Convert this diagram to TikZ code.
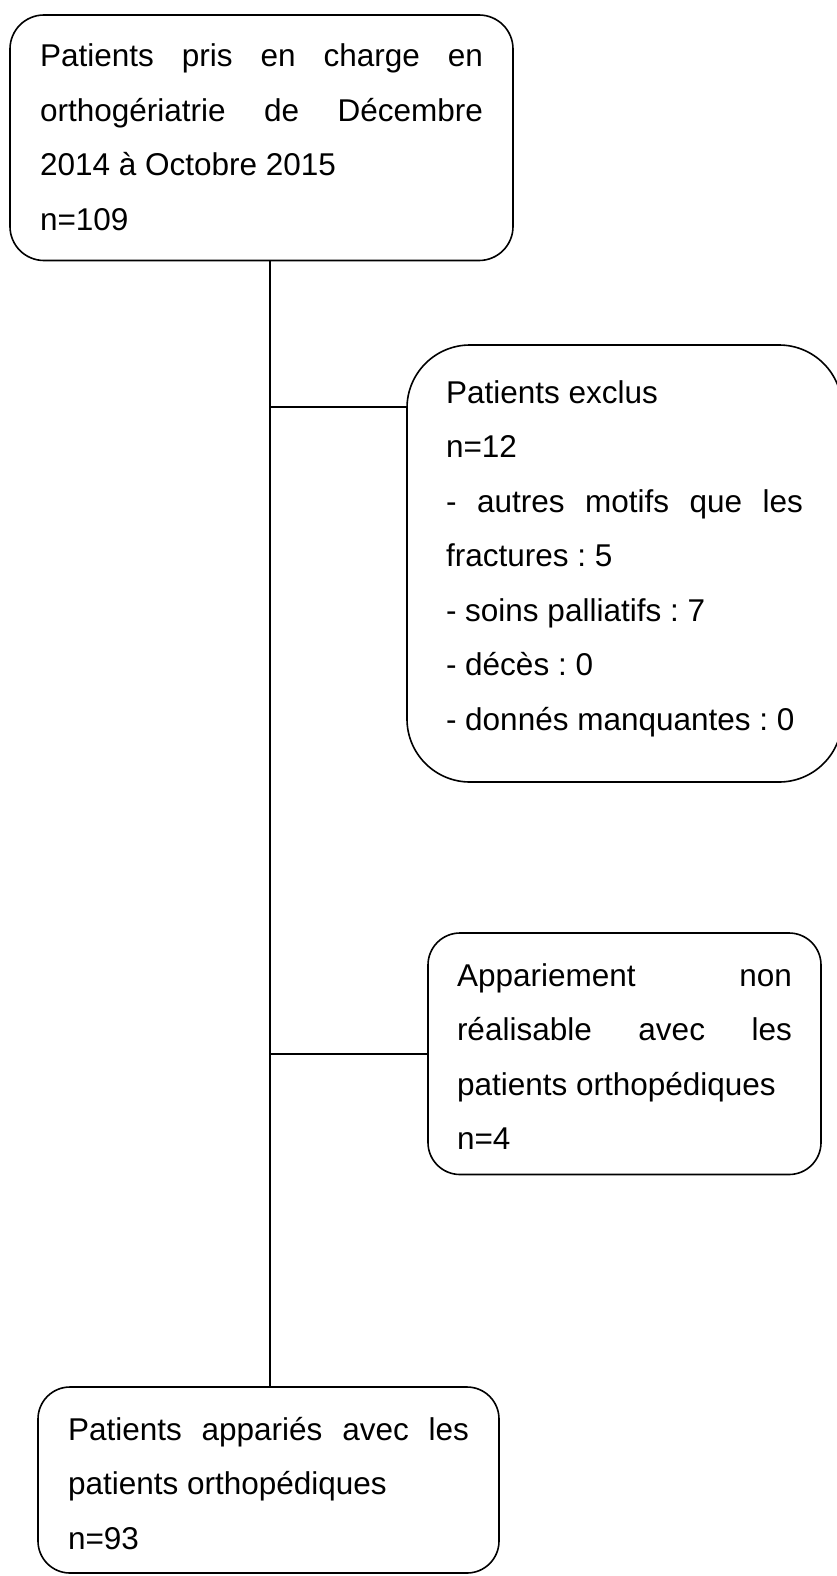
\documentclass[tikz,border=0pt]{standalone}
\usepackage{fontspec}
\setmainfont{Liberation Sans}
\usetikzlibrary{calc}
\setlength{\parindent}{0pt}
\frenchspacing
\newcommand{\topgap}[1]{\rule{0pt}{#1}}
\newcommand{\botgap}[1]{\rule[-#1]{0pt}{#1}}

\begin{document}
\begin{tikzpicture}[x=1pt, y=-1pt,
	box/.style={draw, line width=1.6pt, outer sep=0pt, anchor=north west, align=justify,
		inner ysep=0pt, font=\fontsize{31.5}{54.5}\selectfont},
	link/.style={line width=1.6pt}]
		\useasboundingbox (0,0) rectangle (836,1576);
		\node[box, rounded corners=34pt, inner xsep=30pt, text width=443pt] (inclus) at (10,15)
			{\topgap{52pt}Patients pris en charge en\linebreak orthogériatrie de Décembre\linebreak 2014 à Octobre 2015\\ n=109\botgap{30pt}};
		\node[box, rounded corners=63pt, inner xsep=39pt, text width=357pt] (exclus) at (407,345)
			{\topgap{58pt}Patients exclus\\ n=12\\ - autres motifs que les\linebreak fractures : 5\\ - soins palliatifs : 7\\ - décès : 0\\ - donnés manquantes : 0\botgap{52pt}};
		\node[box, rounded corners=32pt, inner xsep=29pt, text width=335pt] (nonapp) at (428,933)
			{\topgap{53pt}Appariement non\linebreak réalisable avec les\linebreak patients orthopédiques\\ n=4\botgap{25pt}};
		\node[box, rounded corners=32pt, inner xsep=30pt, text width=401pt] (appar) at (38,1387)
			{\topgap{53pt}Patients appariés avec les\linebreak patients orthopédiques\\ n=93\botgap{24pt}};
		\coordinate (spine) at (270,0);
		\coordinate (exin) at ($(exclus.north west)+(0,62)$);
		\draw[link] (inclus.south -| spine) -- (appar.north -| spine);
		\draw[link] (spine |- exin) -- (exin);
		\draw[link] (spine |- nonapp.west) -- (nonapp.west);
	\end{tikzpicture}
\end{document}
